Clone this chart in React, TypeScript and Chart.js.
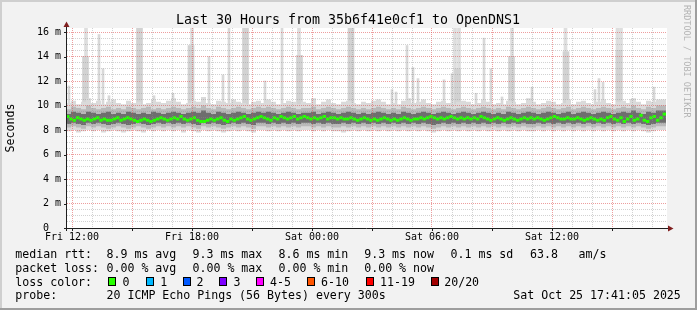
import React, { useEffect, useRef } from "react";
import { Chart, registerables } from "chart.js";

Chart.register(...registerables);

// ---------- time axis (hours counted from Fri 00:00) ----------
const axisMinHour = 11.75;
const axisMaxHour = 41.75;
const dataStartHour = 11.7;
const medianStepHours = 1 / 6; // 10 minutes
const bandStepHours = 1 / 4; // 15 minutes
const spikeBase = 9.6;

// ---------- median rtt (ms), one value per 10 minutes ----------
const medianRtt = [
  9.1, 8.9, 8.8, 9.0, 8.9, 8.8, 8.9, 8.8, 8.9, 9.0, 8.8, 8.9, 8.8, 8.8, 8.9, 9.0, 8.8, 8.9, 9.0, 8.9,
  8.8, 8.7, 8.8, 8.9, 8.8, 8.7, 8.8, 8.9, 9.0, 8.9, 8.8, 8.9, 9.0, 8.9, 9.1, 8.9, 8.8, 8.9, 9.0, 8.8,
  8.7, 8.7, 8.8, 8.9, 8.8, 8.9, 9.0, 8.8, 8.7, 8.9, 8.8, 8.9, 9.0, 9.1, 8.9, 8.8, 8.9, 9.0, 9.1, 9.0,
  8.9, 8.8, 9.0, 8.9, 9.1, 9.0, 8.9, 9.0, 9.1, 8.9, 9.0, 9.1, 9.0, 8.9, 9.0, 8.9, 9.0, 9.1, 8.9, 9.0,
  9.0, 8.9, 9.0, 8.9, 8.9, 9.0, 8.9, 8.8, 8.9, 9.0, 8.9, 8.8, 8.9, 8.8, 8.9, 9.0, 8.9, 8.8, 8.9, 8.8,
  8.9, 9.0, 8.9, 8.8, 8.9, 8.9, 9.0, 8.9, 9.0, 9.1, 9.0, 8.9, 9.0, 8.9, 9.0, 9.1, 9.0, 8.9, 9.0, 8.9,
  9.0, 8.9, 9.0, 8.9, 9.1, 9.0, 8.9, 8.8, 8.9, 9.0, 8.9, 8.8, 8.9, 9.0, 8.9, 8.8, 8.9, 9.0, 8.9, 9.0,
  8.9, 9.0, 8.9, 8.8, 8.9, 9.0, 9.1, 9.0, 8.9, 8.9, 9.0, 8.9, 8.9, 9.0, 8.9, 8.8, 8.9, 9.0, 8.9, 8.8,
  8.9, 8.8, 9.0, 9.1, 8.9, 8.8, 9.0, 8.7, 8.9, 9.1, 8.8, 8.9, 9.2, 8.8, 8.7, 9.0, 9.1, 8.8, 9.0, 9.3,
];

// ---------- smoke bands (ms), one value per 15 minutes ----------
const darkHi = [
  9.4, 9.3, 9.5, 9.4, 9.3, 9.5, 9.4, 9.3, 9.4, 9.5, 9.3, 9.4, 9.3, 9.5, 9.4, 9.3, 9.4, 9.3, 9.5, 9.4,
  9.3, 9.4, 9.5, 9.4, 9.3, 9.4, 9.5, 9.4, 9.6, 9.4, 9.3, 9.5, 9.4, 9.3, 9.4, 9.5, 9.4, 9.3, 9.4, 9.5,
  9.4, 9.5, 9.4, 9.3, 9.4, 9.5, 9.4, 9.3, 9.4, 9.4, 9.5, 9.3, 9.4, 9.5, 9.4, 9.3, 9.4, 9.5, 9.4, 9.3,
  9.4, 9.3, 9.4, 9.5, 9.4, 9.3, 9.4, 9.3, 9.5, 9.4, 9.3, 9.4, 9.5, 9.4, 9.3, 9.4, 9.5, 9.4, 9.3, 9.4,
  9.5, 9.4, 9.3, 9.4, 9.5, 9.4, 9.3, 9.4, 9.3, 9.5, 9.4, 9.3, 9.4, 9.5, 9.4, 9.3, 9.4, 9.5, 9.4, 9.3,
  9.4, 9.5, 9.3, 9.4, 9.5, 9.4, 9.3, 9.4, 9.5, 9.4, 9.3, 9.4, 9.5, 9.4, 9.6, 9.4, 9.3, 9.5, 9.4, 9.6,
];
const darkLo = [
  8.6, 8.5, 8.6, 8.5, 8.4, 8.6, 8.5, 8.6, 8.5, 8.4, 8.5, 8.6, 8.5, 8.4, 8.5, 8.6, 8.5, 8.4, 8.5, 8.6,
  8.5, 8.6, 8.5, 8.6, 8.5, 8.6, 8.5, 8.4, 8.6, 8.5, 8.6, 8.5, 8.4, 8.5, 8.6, 8.5, 8.6, 8.5, 8.4, 8.6,
  8.6, 8.5, 8.6, 8.5, 8.6, 8.5, 8.6, 8.5, 8.6, 8.6, 8.5, 8.6, 8.5, 8.6, 8.5, 8.5, 8.6, 8.5, 8.6, 8.5,
  8.6, 8.5, 8.6, 8.5, 8.6, 8.5, 8.6, 8.5, 8.6, 8.5, 8.6, 8.5, 8.6, 8.5, 8.4, 8.5, 8.6, 8.5, 8.6, 8.5,
  8.6, 8.5, 8.6, 8.5, 8.6, 8.5, 8.6, 8.5, 8.6, 8.5, 8.6, 8.5, 8.6, 8.5, 8.5, 8.6, 8.5, 8.6, 8.5, 8.6,
  8.5, 8.6, 8.5, 8.6, 8.5, 8.6, 8.5, 8.6, 8.5, 8.6, 8.5, 8.6, 8.5, 8.6, 8.5, 8.6, 8.5, 8.4, 8.5, 8.6,
];
const midHi = [
  9.8, 9.7, 9.9, 9.8, 9.7, 10.0, 9.8, 9.7, 9.8, 9.9, 9.7, 9.8, 9.7, 9.9, 9.8, 9.7, 9.8, 9.9, 9.7, 9.8,
  9.7, 9.8, 9.9, 9.8, 9.7, 9.8, 9.9, 9.8, 10.0, 9.8, 9.7, 9.9, 9.8, 9.7, 9.8, 9.9, 9.8, 9.7, 9.8, 9.9,
  9.8, 9.9, 9.8, 9.7, 9.8, 9.9, 9.8, 9.7, 9.8, 9.8, 9.9, 9.7, 9.8, 9.9, 9.8, 9.7, 9.8, 9.9, 9.8, 9.7,
  9.8, 9.7, 9.8, 9.9, 9.8, 9.7, 9.8, 9.7, 9.9, 9.8, 9.7, 9.8, 9.9, 9.8, 9.7, 9.8, 9.9, 9.8, 9.7, 9.8,
  9.9, 9.8, 9.7, 9.8, 9.9, 9.8, 9.7, 9.8, 9.7, 9.9, 9.8, 9.7, 9.8, 9.9, 9.8, 9.7, 9.8, 9.9, 9.8, 9.7,
  9.8, 9.9, 9.7, 9.8, 9.9, 9.8, 9.7, 9.8, 9.9, 9.8, 9.7, 9.8, 9.9, 9.8, 10.0, 9.8, 9.7, 9.9, 9.8, 10.0,
];
const midLo = [
  8.3, 8.2, 8.3, 8.2, 8.1, 8.3, 8.2, 8.3, 8.2, 8.1, 8.2, 8.3, 8.2, 8.1, 8.2, 8.3, 8.2, 8.1, 8.2, 8.3,
  8.2, 8.3, 8.2, 8.3, 8.2, 8.3, 8.2, 8.1, 8.3, 8.2, 8.3, 8.2, 8.1, 8.2, 8.3, 8.2, 8.3, 8.2, 8.1, 8.3,
  8.3, 8.2, 8.3, 8.2, 8.3, 8.2, 8.3, 8.2, 8.3, 8.3, 8.2, 8.3, 8.2, 8.3, 8.2, 8.2, 8.3, 8.2, 8.3, 8.2,
  8.3, 8.2, 8.3, 8.2, 8.3, 8.2, 8.3, 8.2, 8.3, 8.2, 8.3, 8.2, 8.3, 8.2, 8.1, 8.2, 8.3, 8.2, 8.3, 8.2,
  8.3, 8.2, 8.3, 8.2, 8.3, 8.2, 8.3, 8.2, 8.3, 8.2, 8.3, 8.2, 8.3, 8.2, 8.2, 8.3, 8.2, 8.3, 8.2, 8.3,
  8.2, 8.3, 8.2, 8.3, 8.2, 8.3, 8.2, 8.3, 8.2, 8.3, 8.2, 8.3, 8.2, 8.3, 8.2, 8.3, 8.2, 8.1, 8.2, 8.3,
];
const lightHi = [
  10.5, 10.2, 10.4, 10.1, 10.3, 10.6, 10.2, 10.4, 10.1, 10.3, 10.5, 10.2, 10.1, 10.4, 10.2, 10.3, 10.1, 10.2, 10.5, 10.3,
  10.2, 10.4, 10.6, 10.3, 10.1, 10.2, 10.4, 10.3, 10.7, 10.2, 10.1, 10.4, 10.3, 10.2, 10.5, 10.3, 10.2, 10.1, 10.3, 10.4,
  10.2, 10.5, 10.3, 10.1, 10.2, 10.4, 10.3, 10.1, 10.3, 10.2, 10.6, 10.1, 10.3, 10.5, 10.2, 10.1, 10.3, 10.4, 10.2, 10.1,
  10.3, 10.2, 10.4, 10.5, 10.3, 10.1, 10.2, 10.1, 10.4, 10.6, 10.2, 10.3, 10.5, 10.2, 10.1, 10.3, 10.4, 10.2, 10.1, 10.3,
  10.4, 10.3, 10.1, 10.2, 10.5, 10.3, 10.1, 10.2, 10.1, 10.4, 10.3, 10.1, 10.2, 10.6, 10.3, 10.1, 10.2, 10.4, 10.3, 10.1,
  10.2, 10.5, 10.1, 10.3, 10.4, 10.2, 10.1, 10.3, 10.5, 10.2, 10.1, 10.3, 10.4, 10.2, 10.6, 10.3, 10.1, 10.4, 10.3, 10.5,
];
const lightLo = [
  8.0, 7.9, 8.0, 7.8, 7.9, 8.0, 7.9, 8.0, 7.8, 7.9, 8.0, 7.9, 7.8, 7.9, 8.0, 7.9, 7.8, 8.0, 7.9, 8.0,
  7.9, 8.0, 7.9, 8.0, 7.8, 8.0, 7.9, 7.8, 8.0, 7.9, 8.0, 7.9, 7.8, 7.9, 8.0, 7.9, 8.0, 7.9, 7.8, 8.0,
  8.0, 7.9, 8.0, 7.9, 8.0, 7.9, 8.0, 7.9, 8.0, 8.0, 7.9, 8.0, 7.9, 8.0, 7.9, 7.9, 7.8, 7.9, 8.0, 7.9,
  8.0, 7.9, 8.0, 7.9, 8.0, 7.9, 8.0, 7.9, 8.0, 7.9, 8.0, 7.9, 8.0, 7.9, 7.8, 7.9, 8.0, 7.9, 8.0, 7.9,
  8.0, 7.9, 8.0, 7.9, 8.0, 7.9, 8.0, 7.9, 8.0, 7.9, 8.0, 7.9, 8.0, 7.9, 7.9, 8.0, 7.9, 8.0, 7.9, 8.0,
  7.9, 8.0, 7.9, 8.0, 7.9, 8.0, 7.9, 8.0, 7.9, 8.0, 7.9, 8.0, 7.9, 8.0, 7.9, 8.0, 7.9, 7.8, 7.9, 8.0,
];

// ---------- outlier pings (hour, top value in ms) ----------
const thinSpikeHours = [
  11.85, 13.35, 13.55, 13.85, 16.1, 17.05, 18.85, 19.55, 19.85, 21.65, 22.5, 28.0, 28.2, 28.75,
  29.05, 29.3, 30.6, 31.0, 32.2, 32.6, 32.95, 33.5, 35.0, 38.15, 38.35, 38.55, 39.95, 41.1,
];
const thinSpikeTops = [
  11.6, 15.8, 13.0, 10.8, 10.8, 11.0, 14.0, 12.5, 16.5, 12.0, 16.5, 11.3, 11.1, 14.9,
  13.1, 12.2, 12.1, 12.6, 11.0, 15.5, 13.0, 10.7, 11.5, 11.3, 12.2, 11.9, 10.5, 11.5,
];
const tallSpikeHours = [12.7, 18.0, 23.35, 31.15, 31.35, 34.0, 36.675, 39.275, 39.45];
const tallSpikeTops = [16.5, 16.5, 16.5, 16.5, 16.5, 16.5, 16.5, 16.5, 16.5];
const wideSpikeHours = [12.675, 15.375, 17.95, 20.675, 23.375, 25.95, 31.275, 33.975, 36.7, 39.35];
const wideSpikeTops = [14.0, 16.5, 14.9, 16.5, 14.1, 16.5, 13.0, 14.0, 14.4, 14.5];

// ---------- ticks ----------
const hourTicks = [
  12, 13, 14, 15, 16, 17, 18, 19, 20, 21, 22, 23, 24, 25, 26, 27, 28, 29, 30, 31, 32, 33, 34, 35,
  36, 37, 38, 39, 40, 41,
];
const xLabelHours = [12, 18, 24, 30, 36];
const xLabelTexts = ["Fri 12:00", "Fri 18:00", "Sat 00:00", "Sat 06:00", "Sat 12:00"];
const yTickValues = [
  0, 0.5, 1, 1.5, 2, 2.5, 3, 3.5, 4, 4.5, 5, 5.5, 6, 6.5, 7, 7.5, 8, 8.5, 9, 9.5, 10, 10.5, 11,
  11.5, 12, 12.5, 13, 13.5, 14, 14.5, 15, 15.5, 16,
];
const yLabelValues = [0, 2, 4, 6, 8, 10, 12, 14, 16];
const yLabelTexts = ["0  ", "2 m", "4 m", "6 m", "8 m", "10 m", "12 m", "14 m", "16 m"];

// ---------- texts ----------
const titleText = "Last 30 Hours from 35b6f41e0cf1 to OpenDNS1";
const yAxisTitle = "Seconds";
const watermarkText = "RRDTOOL / TOBI OETIKER";
const rttLabel = "median rtt:";
const rttStats = ["8.9 ms avg", "9.3 ms max", "8.6 ms min", "9.3 ms now", "0.1 ms sd", "63.8", "am/s"];
const lossLabel = "packet loss:";
const lossStats = ["0.00 % avg", "0.00 % max", "0.00 % min", "0.00 % now"];
const colorLabel = "loss color:";
const lossBins = ["0", "1", "2", "3", "4-5", "6-10", "11-19", "20/20"];
const lossColors = ["#26ff00", "#00b8ff", "#0059ff", "#7e00ff", "#ff00ff", "#ff5500", "#ff0000", "#a10000"];
const probeLabel = "probe:";
const probeText = "20 ICMP Echo Pings (56 Bytes) every 300s";
const stampText = "Sat Oct 25 17:41:05 2025";

const MONO = '"DejaVu Sans Mono", monospace';

function stepPoints(vals: number[], start: number, step: number) {
  const pts = vals.map((v, i) => ({ x: start + i * step, y: v }));
  pts.push({ x: start + vals.length * step, y: vals[vals.length - 1] });
  return pts;
}

function bandSet(vals: number[], color: string, fillNext: boolean) {
  return {
    type: "line",
    data: stepPoints(vals, dataStartHour, bandStepHours),
    stepped: "after",
    borderWidth: 0,
    borderColor: "rgba(0,0,0,0)",
    backgroundColor: color,
    pointRadius: 0,
    fill: fillNext ? "+1" : false,
  };
}

function spikeSet(hours: number[], tops: number[], color: string, thickness: number) {
  return {
    type: "bar",
    data: hours.map((h, i) => ({ x: h, y: [spikeBase, tops[i]] })),
    backgroundColor: color,
    borderWidth: 0,
    barThickness: thickness,
    stack: "spikes",
  };
}

const decorPlugin = {
  id: "smokepingDecor",
  beforeDraw(chart: any) {
    const { ctx, chartArea: a, width, height } = chart;
    ctx.save();
    ctx.fillStyle = "#f2f2f2";
    ctx.fillRect(0, 0, width, height);
    ctx.fillStyle = "#cfcfcf";
    ctx.fillRect(0, 0, width, 2);
    ctx.fillRect(0, 0, 2, height);
    ctx.fillStyle = "#9e9e9e";
    ctx.fillRect(0, height - 2, width, 2);
    ctx.fillRect(width - 2, 0, 2, height);
    ctx.fillStyle = "#ffffff";
    ctx.fillRect(a.left, a.top, a.right - a.left, a.bottom - a.top);
    ctx.restore();
  },
  afterDraw(chart: any) {
    const { ctx, chartArea: a } = chart;
    const xs = chart.scales.x;
    const ys = chart.scales.y;
    ctx.save();
    // axes
    ctx.strokeStyle = "#1f1f1f";
    ctx.lineWidth = 1;
    ctx.beginPath();
    ctx.moveTo(a.left - 3, a.bottom + 0.5);
    ctx.lineTo(a.right + 2, a.bottom + 0.5);
    ctx.moveTo(a.left - 0.5, a.bottom + 3);
    ctx.lineTo(a.left - 0.5, a.top - 1);
    // tick marks
    hourTicks.forEach((h) => {
      if (h % 3 === 0) {
        const px = Math.round(xs.getPixelForValue(h)) + 0.5;
        ctx.moveTo(px, a.bottom);
        ctx.lineTo(px, a.bottom + 3);
      }
    });
    yLabelValues.forEach((v) => {
      const py = Math.round(ys.getPixelForValue(v)) + 0.5;
      ctx.moveTo(a.left - 3, py);
      ctx.lineTo(a.left, py);
    });
    ctx.stroke();
    // arrows
    ctx.fillStyle = "rgb(128,31,31)";
    ctx.beginPath();
    ctx.moveTo(a.right + 1, a.bottom - 2.5);
    ctx.lineTo(a.right + 6.5, a.bottom + 0.5);
    ctx.lineTo(a.right + 1, a.bottom + 3.5);
    ctx.closePath();
    ctx.fill();
    ctx.beginPath();
    ctx.moveTo(a.left - 3.5, a.top - 1);
    ctx.lineTo(a.left - 0.5, a.top - 6.5);
    ctx.lineTo(a.left + 2.5, a.top - 1);
    ctx.closePath();
    ctx.fill();

    // title
    ctx.fillStyle = "#000";
    ctx.font = `13.3px ${MONO}`;
    ctx.textAlign = "center";
    ctx.textBaseline = "alphabetic";
    ctx.fillText(titleText, 348, 23.5);

    // y-axis title
    ctx.save();
    ctx.font = `11.6px ${MONO}`;
    ctx.translate(14, 128);
    ctx.rotate(-Math.PI / 2);
    ctx.textAlign = "center";
    ctx.fillText(yAxisTitle, 0, 0);
    ctx.restore();

    // watermark
    ctx.save();
    ctx.font = `8.5px ${MONO}`;
    ctx.fillStyle = "#b4b4b4";
    ctx.translate(683.5, 5);
    ctx.rotate(Math.PI / 2);
    ctx.textAlign = "left";
    ctx.fillText(watermarkText, 0, 0);
    ctx.restore();

    // legend
    ctx.font = `11.6px ${MONO}`;
    ctx.textAlign = "left";
    ctx.fillStyle = "#000";
    const lx = 15.3;
    const b1 = 258, b2 = 271.5, b3 = 285.5, b4 = 299;
    const rttX = [106.5, 192.5, 278.5, 364.2, 450.5, 530, 578.5];
    ctx.fillText(rttLabel, lx, b1);
    rttStats.forEach((t, i) => ctx.fillText(t, rttX[i], b1));
    ctx.fillText(lossLabel, lx, b2);
    lossStats.forEach((t, i) => ctx.fillText(t, rttX[i], b2));
    ctx.fillText(colorLabel, lx, b3);
    const swX = [108, 145.5, 182.5, 219, 256, 306.5, 365.5, 430.5];
    const lbX = [122.5, 160.2, 196.5, 233.5, 270, 321, 380, 444.2];
    lossBins.forEach((t, i) => {
      const sx = Math.round(swX[i]);
      ctx.fillStyle = lossColors[i];
      ctx.fillRect(sx, 277, 8, 9);
      ctx.strokeStyle = "#000";
      ctx.lineWidth = 1;
      ctx.strokeRect(sx + 0.5, 277.5, 7, 8);
      ctx.fillStyle = "#000";
      ctx.fillText(t, lbX[i], b3);
    });
    ctx.fillText(probeLabel, lx, b4);
    ctx.fillText(probeText, 106.5, b4);
    ctx.fillText(stampText, 513.3, b4);
    ctx.restore();
  },
};

export default function App() {
  const ref = useRef<HTMLCanvasElement | null>(null);
  useEffect(() => {
    if (!ref.current) return;
    const majorGrid = "rgba(222,79,79,0.55)";
    const minorGrid = "rgba(143,143,143,0.4)";
    const chart = new Chart(ref.current, {
      type: "line",
      data: {
        datasets: [
          {
            type: "line",
            data: medianRtt.map((v, i) => ({ x: dataStartHour + (i + 0.5) * medianStepHours, y: v })),
            showLine: false,
            pointStyle: "line",
            pointRadius: 1.7,
            pointBorderWidth: 3,
            pointBorderColor: lossColors[0],
            pointBackgroundColor: lossColors[0],
            fill: false,
          },
          bandSet(darkHi, "#6e6e6e", true),
          bandSet(darkLo, "#6e6e6e", false),
          bandSet(midHi, "#b9b9b9", true),
          bandSet(midLo, "#b9b9b9", false),
          bandSet(lightHi, "#dadada", true),
          bandSet(lightLo, "#dadada", false),
          spikeSet(thinSpikeHours, thinSpikeTops, "#d8d8d8", 2),
          spikeSet(wideSpikeHours, wideSpikeTops, "#d2d2d2", 6),
          spikeSet(tallSpikeHours, tallSpikeTops, "#dedede", 3),
        ] as any,
      },
      options: {
        responsive: false,
        devicePixelRatio: 1,
        animation: false,
        events: [],
        layout: { padding: { top: 28, right: 30, left: 0, bottom: 0 } },
        plugins: {
          legend: { display: false },
          tooltip: { enabled: false },
          title: { display: false },
        },
        scales: {
          x: {
            type: "linear",
            min: axisMinHour,
            max: axisMaxHour,
            offset: false,
            afterFit: (s: any) => {
              s.height = 82;
            },
            afterBuildTicks: (s: any) => {
              s.ticks = hourTicks.map((v) => ({ value: v }));
            },
            grid: {
              z: 1,
              drawTicks: false,
              offset: false,
              lineWidth: 1,
              color: (c: any) => (c.tick && c.tick.value % 3 === 0 ? majorGrid : minorGrid),
            },
            border: { display: false, dash: [1, 1] },
            ticks: {
              autoSkip: false,
              maxRotation: 0,
              minRotation: 0,
              padding: 3,
              color: "#000",
              font: { family: MONO, size: 10 },
              callback: (v: any) => {
                const k = xLabelHours.indexOf(Number(v));
                return k >= 0 ? xLabelTexts[k] : "";
              },
            },
          },
          y: {
            type: "linear",
            min: 0,
            max: 16.33,
            stacked: false,
            afterFit: (s: any) => {
              s.width = 67;
            },
            afterBuildTicks: (s: any) => {
              s.ticks = yTickValues.map((v) => ({ value: v }));
            },
            grid: {
              z: 1,
              drawTicks: false,
              lineWidth: 1,
              color: (c: any) => {
                if (!c.tick) return minorGrid;
                if (c.tick.value === 0) return "rgba(0,0,0,0)";
                return c.tick.value % 2 === 0 ? majorGrid : minorGrid;
              },
            },
            border: { display: false, dash: [1, 1] },
            ticks: {
              autoSkip: false,
              padding: 6,
              color: "#000",
              font: { family: MONO, size: 10 },
              callback: (v: any) => {
                const k = yLabelValues.indexOf(Number(v));
                return k >= 0 ? yLabelTexts[k] : "";
              },
            },
          },
        },
      } as any,
      plugins: [decorPlugin],
    });
    return () => chart.destroy();
  }, []);
  return (
    <div style={{ position: "absolute", left: 0, top: 0, width: 697, height: 310 }}>
      <canvas ref={ref} width={697} height={310} style={{ display: "block", width: 697, height: 310 }} />
    </div>
  );
}
